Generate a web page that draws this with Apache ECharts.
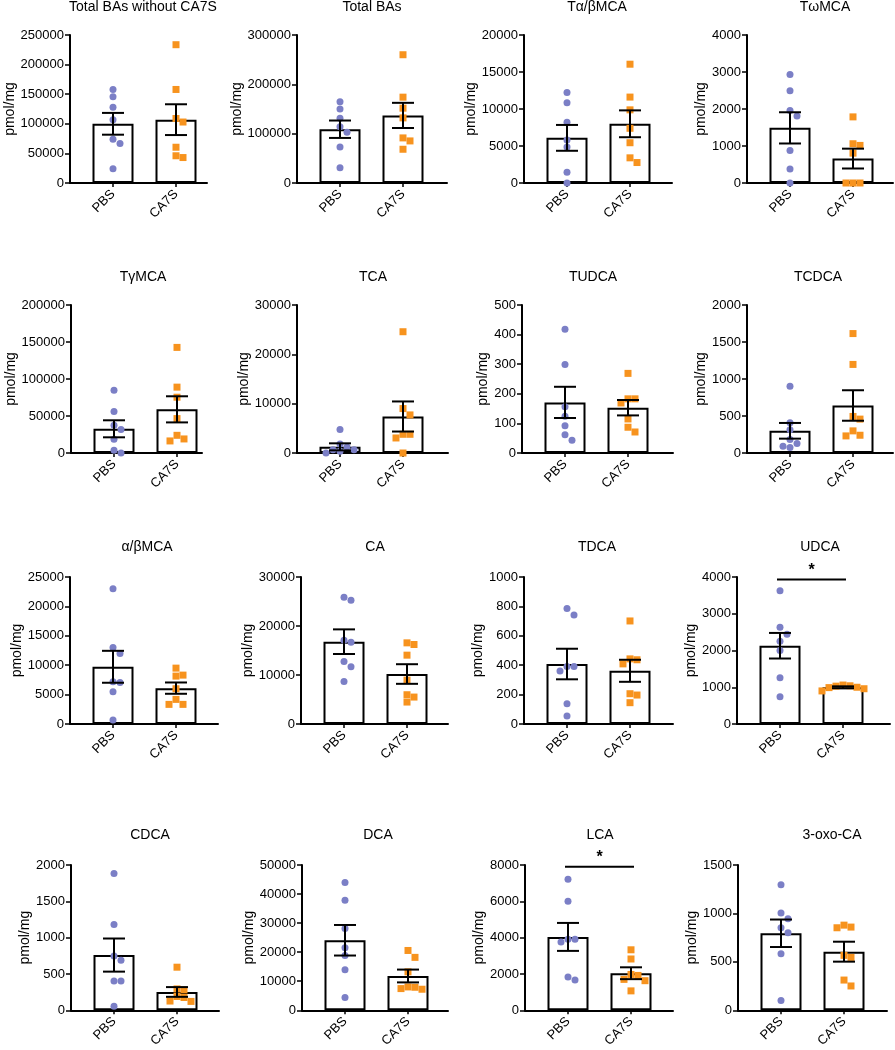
<!DOCTYPE html>
<html>
<head>
<meta charset="utf-8">
<title>Bile acids PBS vs CA7S</title>
<script src="https://cdn.jsdelivr.net/npm/echarts@6/dist/echarts.min.js"></script>
<style>
  html, body { margin: 0; padding: 0; background: #fff; }
  #main { width: 895px; height: 1050px; }
</style>
</head>
<body>
<div id="main"></div>
<script>
// ---- data ----
const titles = ['Total BAs without CA7S', 'Total BAs', 'Tα/βMCA', 'TωMCA',
                'TγMCA', 'TCA', 'TUDCA', 'TCDCA',
                'α/βMCA', 'CA', 'TDCA', 'UDCA',
                'CDCA', 'DCA', 'LCA', '3-oxo-CA'];
const groups = ['PBS', 'CA7S'];
const yMax  = [250000, 300000, 20000, 4000, 200000, 30000, 500, 2000, 25000, 30000, 1000, 4000, 2000, 50000, 8000, 1500];
const yStep = [50000, 100000, 5000, 1000, 50000, 10000, 100, 500, 5000, 10000, 200, 1000, 500, 10000, 2000, 500];

const pbsPoints = [
  [158000, 145600, 128000, 107000, 74000, 66600, 24000],
  [164600, 150000, 131000, 113800, 103000, 73000, 31000],
  [12245, 10839, 8208, 5805, 4852, 1451, 0],
  [2930, 2494, 1959, 1814, 880, 381, 0],
  [84900, 56000, 37500, 31600, 18500, 3600, 0],
  [4740, 1830, 1220, 680, 680, 340, 0],
  [418, 299, 156, 124, 92, 62, 43],
  [902, 408, 313, 181, 127, 91, 73],
  [23020, 13009, 11991, 7183, 7070, 5486, 679],
  [25859, 25248, 17103, 16696, 12760, 11674, 8688],
  [785, 742, 391, 391, 360, 138, 54],
  [3629, 2633, 2443, 2253, 2000, 1258, 742],
  [1882, 1181, 747, 688, 403, 403, 54],
  [43995, 37888, 28162, 21489, 18888, 13911, 4411],
  [7222, 6009, 3910, 3910, 3765, 1828, 1665],
  [1297, 1005, 944, 852, 801, 584, 102]
];
const ca7sPoints = [
  [233600, 158000, 109000, 103000, 60400, 46000, 43000],
  [260000, 174000, 151700, 132000, 91400, 85300, 68400],
  [16054, 11610, 9886, 7392, 5442, 3401, 2766],
  [1787, 1061, 1016, 807, 0, 0, 0],
  [142700, 89000, 75400, 46500, 23900, 19000, 16300],
  [24583, 9007, 7720, 3792, 3792, 3047, 0],
  [269, 183, 183, 169, 115, 87, 71],
  [1614, 1197, 494, 458, 299, 240, 231],
  [9502, 8314, 8145, 5995, 4185, 3337, 3337],
  [16560, 16221, 14049, 8959, 5973, 5497, 4479],
  [701, 443, 437, 409, 206, 197, 145],
  [1060, 1040, 1030, 1000, 990, 960, 900],
  [593, 294, 281, 190, 176, 127, 122],
  [20584, 18209, 13232, 8030, 7917, 7464, 7238],
  [3330, 2824, 1973, 1919, 1701, 1629, 1068],
  [879, 859, 852, 567, 546, 312, 251]
];
const pbsMean  = [100000, 109000, 6100, 1490, 32700, 1250, 171, 300, 9730, 16800, 408, 2130, 760, 24100, 4040, 795];
const pbsSem   = [18400, 17650, 1746, 422, 11500, 711, 52.7, 106, 2715, 2511, 104, 348, 228, 5259, 770, 142];
const ca7sMean = [107000, 137000, 8000, 660, 59000, 7400, 153, 642, 6100, 10200, 362, 1000, 252, 11800, 2040, 605];
const ca7sSem  = [26000, 25500, 1814, 268, 17650, 3048, 26, 206, 961, 2002, 75, 25, 67, 2205, 326, 103];

// significance bars: panel index, height of the bar, label
const sigPanels  = [11, 14];
const sigHeights = [3930, 7900];
const sigLabels  = ['*', '*'];

// ---- layout ----
const rowTop    = [35, 305, 577, 865];
const rowHeight = [148, 148, 147, 147];
const colLeft   = [[70, 297, 524, 747], [71, 297, 522, 747], [70, 301, 524, 737], [71, 302, 525, 738]];
const plotWidth = [[137, 150, 148, 146], [131, 151, 151, 146], [148, 147, 149, 153], [148, 146, 148, 149]];
const titleX    = [[143, 372, 597, 825], [143, 373, 593, 818], [147, 375, 597, 820], [150, 378, 600, 832]];
const titleTop  = [0, 270, 540, 828];

const UNIT_PX = 63;      // pixels between PBS and CA7S columns
const FIRST_PX = 43;     // y axis -> PBS column
const DOT = 7;
const FONT = "'Liberation Sans', Arial, Helvetica, sans-serif";
const BLUE = '#7b7fc6';
const ORANGE = '#f7931e';

// spread points sideways so they don't overlap (column scatter)
function swarm(values, max, height, center) {
    const order = values.map((v, i) => i).sort((a, b) => values[b] - values[a]);
    const placed = [];
    const out = new Array(values.length);
    order.forEach(i => {
        const py = values[i] / max * height;
        let k = 0, dx = 0;
        while (true) {
            dx = k === 0 ? 0 : (k % 2 ? 1 : -1) * Math.ceil(k / 2) * DOT;
            if (placed.every(p => Math.hypot(p[0] - dx, p[1] - py) >= DOT)) break;
            k++;
        }
        placed.push([dx, py]);
        out[i] = [center + dx / UNIT_PX, values[i]];
    });
    return out;
}

function errorBars(params, api) {
    const x = api.value(0), m = api.value(1), s = api.value(2);
    const top = api.coord([x, m + s]);
    const bot = api.coord([x, m - s]);
    const hw = 11;
    const st = { stroke: '#000', lineWidth: 2 };
    return {
        type: 'group',
        children: [
            { type: 'line', shape: { x1: top[0], y1: top[1], x2: bot[0], y2: bot[1] }, style: st },
            { type: 'line', shape: { x1: top[0] - hw, y1: top[1], x2: top[0] + hw, y2: top[1] }, style: st },
            { type: 'line', shape: { x1: bot[0] - hw, y1: bot[1], x2: bot[0] + hw, y2: bot[1] }, style: st }
        ]
    };
}

function sigBar(params, api) {
    const a = api.coord([api.value(0), api.value(2)]);
    const b = api.coord([api.value(1), api.value(2)]);
    return {
        type: 'group',
        children: [
            { type: 'line', shape: { x1: a[0] - 3, y1: a[1], x2: b[0] + 3, y2: b[1] },
              style: { stroke: '#000', lineWidth: 2 } },
            { type: 'text', x: (a[0] + b[0]) / 2, y: a[1] - 1,
              style: { text: sigLabels[0], fill: '#000', font: 'bold 16px ' + FONT,
                       textAlign: 'center', textVerticalAlign: 'bottom' } }
        ]
    };
}

const grids = [], xAxes = [], yAxes = [], series = [], titleList = [];

titles.forEach((name, i) => {
    const r = Math.floor(i / 4), c = i % 4;
    const left = colLeft[r][c], w = plotWidth[r][c];
    const top = rowTop[r], h = rowHeight[r];
    const xMin = 1 - FIRST_PX / UNIT_PX;
    const digits = String(yMax[i]).length;

    grids.push({ left: left, top: top, width: w, height: h });
    titleList.push({
        text: name, left: titleX[r][c], top: titleTop[r], textAlign: 'center', padding: 0,
        textStyle: { fontFamily: FONT, fontSize: 14, fontWeight: 'normal', color: '#000' }
    });
    xAxes.push({
        gridIndex: i, type: 'value', min: xMin, max: xMin + w / UNIT_PX,
        splitLine: { show: false },
        axisLine: { onZero: false, lineStyle: { color: '#000', width: 2 } },
        axisTick: { customValues: [1, 2], length: 4, lineStyle: { color: '#000', width: 1.5 } },
        axisLabel: {
            customValues: [1, 2], rotate: 45, margin: 9,
            formatter: v => groups[Math.round(v) - 1],
            fontFamily: FONT, fontSize: 13, color: '#000'
        }
    });
    yAxes.push({
        gridIndex: i, type: 'value', min: 0, max: yMax[i], interval: yStep[i],
        name: 'pmol/mg', nameLocation: 'middle', nameGap: Math.round(digits * 7 + 11),
        nameTextStyle: { fontFamily: FONT, fontSize: 14, color: '#000' },
        splitLine: { show: false },
        axisLine: { show: true, lineStyle: { color: '#000', width: 2 } },
        axisTick: { show: true, length: 5, lineStyle: { color: '#000', width: 1.5 } },
        axisLabel: { margin: 6, formatter: v => String(v), fontFamily: FONT, fontSize: 13, color: '#000' }
    });

    series.push({
        type: 'bar', xAxisIndex: i, yAxisIndex: i, barWidth: 41, z: 1, silent: true,
        data: [[1, pbsMean[i]], [2, ca7sMean[i]]],
        itemStyle: { color: '#fff', borderColor: '#000', borderWidth: 2 }
    });
    series.push({
        type: 'scatter', xAxisIndex: i, yAxisIndex: i, z: 3, silent: true,
        symbol: 'circle', symbolSize: DOT,
        data: swarm(pbsPoints[i], yMax[i], h, 1),
        itemStyle: { color: BLUE, opacity: 1 }
    });
    series.push({
        type: 'scatter', xAxisIndex: i, yAxisIndex: i, z: 3, silent: true,
        symbol: 'rect', symbolSize: DOT,
        data: swarm(ca7sPoints[i], yMax[i], h, 2),
        itemStyle: { color: ORANGE, opacity: 1 }
    });
    series.push({
        type: 'custom', xAxisIndex: i, yAxisIndex: i, z: 4, silent: true,
        encode: { x: 0, y: 1 },
        data: [[1, pbsMean[i], pbsSem[i]], [2, ca7sMean[i], ca7sSem[i]]],
        renderItem: errorBars
    });
    const s = sigPanels.indexOf(i);
    if (s >= 0) {
        series.push({
            type: 'custom', xAxisIndex: i, yAxisIndex: i, z: 4, silent: true, clip: false,
            encode: { x: [0, 1], y: 2 },
            data: [[1, 2, sigHeights[s]]],
            renderItem: sigBar
        });
    }
});

const chart = echarts.init(document.getElementById('main'), null, { renderer: 'canvas' });
chart.setOption({
    backgroundColor: '#fff',
    animation: false,
    title: titleList,
    grid: grids,
    xAxis: xAxes,
    yAxis: yAxes,
    series: series
});
</script>
</body>
</html>
